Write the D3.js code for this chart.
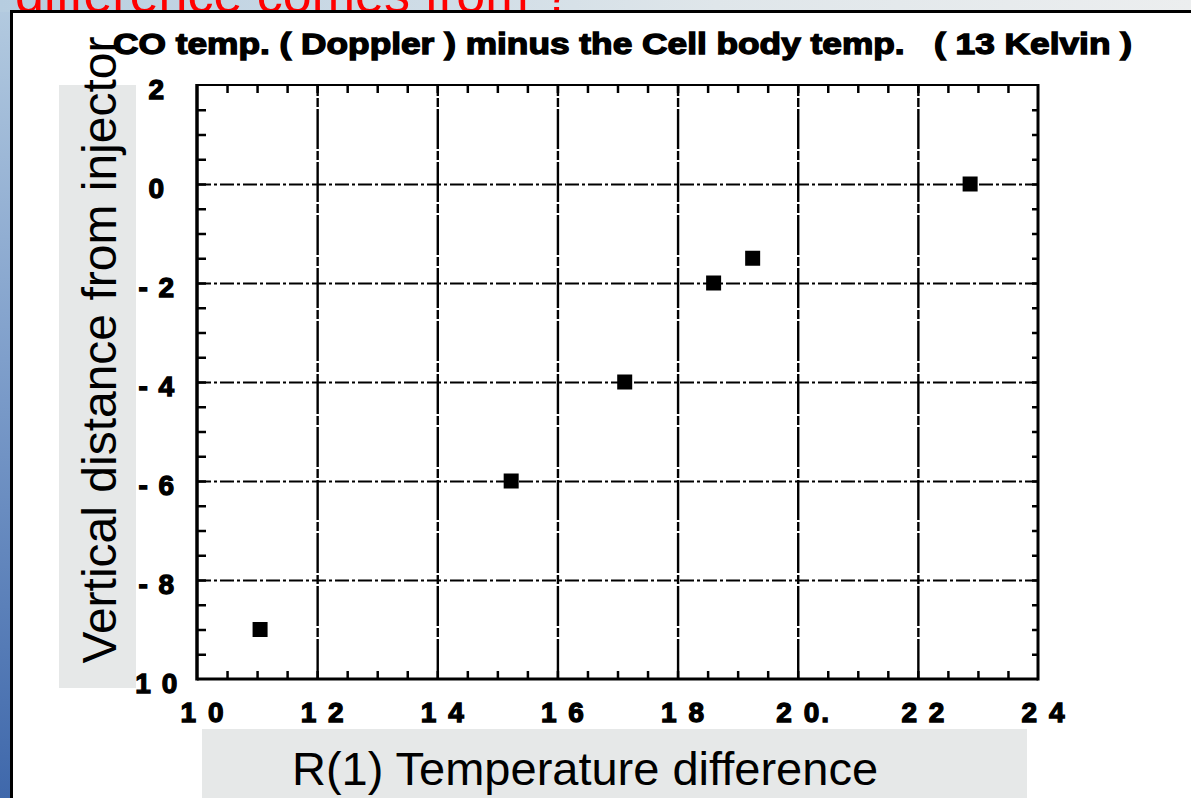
<!DOCTYPE html>
<html>
<head>
<meta charset="utf-8">
<script src="https://cdn.jsdelivr.net/npm/d3@7"></script>
<style>
  html, body { margin: 0; padding: 0; background: #fff; }
  svg { display: block; }
</style>
</head>
<body>
<svg id="chart" width="1191" height="798"></svg>
<script>
// Measured points: R(1) temperature difference vs vertical distance from injector
const tempDiff = [11.05, 15.23, 17.12, 18.6, 19.25, 22.87];
const distance = [-9, -6, -4, -2, -1.5, 0];

// Axis ticks and their printed labels
const xTickValues = [10, 12, 14, 16, 18, 20, 22, 24];
const xTickLabels = ["1 0", "1 2", "1 4", "1 6", "1 8", "2 0.", "2 2", "2 4"];
const yTickValues = [2, 0, -2, -4, -6, -8, -10];
const yTickLabels = ["2", "0", "- 2", "- 4", "- 6", "- 8", "1 0"];

const titleText = "CO temp. ( Doppler ) minus the Cell body temp.   ( 13 Kelvin )";
const xAxisTitle = "R(1) Temperature difference";
const yAxisTitle = "Vertical distance from injector";
const slideHeading = "difference comes from ?";

const svg = d3.select("#chart");
const W = 1191, H = 798;

// ---- slide background ----
const defs = svg.append("defs");
const gLeft = defs.append("linearGradient").attr("id", "bgLeft")
  .attr("x1", 0).attr("y1", 0).attr("x2", 0).attr("y2", 1);
gLeft.append("stop").attr("offset", "0%").attr("stop-color", "#b4cbe0");
gLeft.append("stop").attr("offset", "45%").attr("stop-color", "#7f9fcb");
gLeft.append("stop").attr("offset", "100%").attr("stop-color", "#3f68ab");
const gTop = defs.append("linearGradient").attr("id", "bgTop")
  .attr("x1", 0).attr("y1", 0).attr("x2", 1).attr("y2", 0);
gTop.append("stop").attr("offset", "0%").attr("stop-color", "#b6cde0");
gTop.append("stop").attr("offset", "60%").attr("stop-color", "#dfe6ea");
gTop.append("stop").attr("offset", "100%").attr("stop-color", "#eceeef");

svg.append("rect").attr("width", W).attr("height", H).attr("fill", "url(#bgLeft)");
svg.append("rect").attr("width", W).attr("height", 12).attr("fill", "url(#bgTop)");

// slide heading, mostly hidden behind the content panel
svg.append("text")
  .attr("x", 15).attr("y", 12)
  .attr("font-family", "Liberation Sans, Arial, sans-serif")
  .attr("font-size", 52)
  .attr("fill", "#ff0000")
  .text(slideHeading);

// white content panel with black border
svg.append("rect")
  .attr("x", 11.5).attr("y", 11.5)
  .attr("width", W + 20).attr("height", H + 20)
  .attr("fill", "#ffffff")
  .attr("stroke", "#000").attr("stroke-width", 3);

// ---- plot ----
const plot = { left: 197, right: 1038, top: 85, bottom: 679 };
const x = d3.scaleLinear().domain([10, 24]).range([plot.left, plot.right]);
const y = d3.scaleLinear().domain([-10, 2]).range([plot.bottom, plot.top]);

const heavyFont = "Liberation Sans, Arial, sans-serif";

// title
svg.append("text")
  .attr("x", 113).attr("y", 54)
  .attr("font-family", heavyFont)
  .attr("font-weight", "bold")
  .attr("font-size", 29)
  .attr("stroke", "#000").attr("stroke-width", 1.3)
  .attr("textLength", 1019).attr("lengthAdjust", "spacingAndGlyphs")
  .style("white-space", "pre")
  .text(titleText);

// grid lines (dash-dot)
const grid = svg.append("g");
grid.append("g")
  .attr("transform", `translate(0,${plot.bottom})`)
  .call(d3.axisBottom(x).tickValues(xTickValues.slice(1, -1)).tickSize(-(plot.bottom - plot.top)).tickFormat(""))
  .call(g => g.select(".domain").remove())
  .call(g => g.selectAll("line").attr("stroke", "#000").attr("stroke-width", 2.4).attr("stroke-dasharray", "40 2 9 2"));
grid.append("g")
  .attr("transform", `translate(${plot.left},0)`)
  .call(d3.axisLeft(y).tickValues(yTickValues.slice(1, -1)).tickSize(-(plot.right - plot.left)).tickFormat(""))
  .call(g => g.select(".domain").remove())
  .call(g => g.selectAll("line").attr("stroke", "#000").attr("stroke-width", 2.2).attr("stroke-dasharray", "14 3 3 3"));

// minor tick marks on all four sides (every 0.5 unit), pointing inward
const xMinor = d3.range(10.5, 24, 0.5);
const yMinor = d3.range(-9.5, 2, 0.5);
const tickStyle = g => g.call(s => s.select(".domain").remove())
  .call(s => s.selectAll("line").attr("stroke", "#000").attr("stroke-width", 2.5));
svg.append("g").attr("transform", `translate(0,${plot.bottom})`)
  .call(d3.axisBottom(x).tickValues(xMinor).tickSize(-8).tickFormat("")).call(tickStyle);
svg.append("g").attr("transform", `translate(0,${plot.top})`)
  .call(d3.axisTop(x).tickValues(xMinor).tickSize(-8).tickFormat("")).call(tickStyle);
svg.append("g").attr("transform", `translate(${plot.left},0)`)
  .call(d3.axisLeft(y).tickValues(yMinor).tickSize(-9).tickFormat("")).call(tickStyle);
svg.append("g").attr("transform", `translate(${plot.right},0)`)
  .call(d3.axisRight(y).tickValues(yMinor).tickSize(-6).tickFormat("")).call(tickStyle);

// frame
const frame = svg.append("g").attr("stroke", "#000").attr("fill", "none");
frame.append("line").attr("x1", plot.left).attr("x2", plot.left).attr("y1", plot.top - 1).attr("y2", plot.bottom + 1.5).attr("stroke-width", 3.5);
frame.append("line").attr("x1", plot.left).attr("x2", plot.right).attr("y1", plot.bottom).attr("y2", plot.bottom).attr("stroke-width", 3);
frame.append("line").attr("x1", plot.left).attr("x2", plot.right).attr("y1", plot.top).attr("y2", plot.top).attr("stroke-width", 2);
frame.append("line").attr("x1", plot.right).attr("x2", plot.right).attr("y1", plot.top - 1).attr("y2", plot.bottom + 1.5).attr("stroke-width", 3);

// tick labels
const labelStyle = s => s
  .attr("font-family", heavyFont)
  .attr("font-weight", "bold")
  .attr("font-size", 28)
  .attr("fill", "#000")
  .attr("stroke", "#000").attr("stroke-width", 1.3)
  .attr("text-anchor", "middle")
  .style("white-space", "pre");

svg.append("g").selectAll("text")
  .data(xTickValues)
  .join("text")
  .attr("x", d => x(d) + 6)
  .attr("y", 722)
  .attr("letter-spacing", 2)
  .call(labelStyle)
  .text((d, i) => xTickLabels[i]);

svg.append("g").selectAll("text")
  .data(yTickValues)
  .join("text")
  .attr("x", 157)
  .attr("y", d => y(d) + 14)
  .attr("letter-spacing", 1.5)
  .call(labelStyle)
  .text((d, i) => yTickLabels[i]);

// data markers
const size = 15;
svg.append("g").selectAll("rect")
  .data(tempDiff.map((t, i) => [t, distance[i]]))
  .join("rect")
  .attr("x", d => x(d[0]) - size / 2)
  .attr("y", d => y(d[1]) - size / 2)
  .attr("width", size).attr("height", size)
  .attr("fill", "#000");

// axis title boxes
const boxFill = "#e6e8e8";
svg.append("rect").attr("x", 59).attr("y", 85).attr("width", 77).attr("height", 603).attr("fill", boxFill);
svg.append("text")
  .attr("transform", "translate(116,350) rotate(-90)")
  .attr("text-anchor", "middle")
  .attr("font-family", "Liberation Sans, Arial, sans-serif")
  .attr("font-size", 48)
  .attr("fill", "#000")
  .text(yAxisTitle);

svg.append("rect").attr("x", 202).attr("y", 729).attr("width", 825).attr("height", 80).attr("fill", boxFill);
svg.append("text")
  .attr("x", 585).attr("y", 785)
  .attr("text-anchor", "middle")
  .attr("font-family", "Liberation Sans, Arial, sans-serif")
  .attr("font-size", 47)
  .attr("fill", "#000")
  .text(xAxisTitle);
</script>
</body>
</html>
